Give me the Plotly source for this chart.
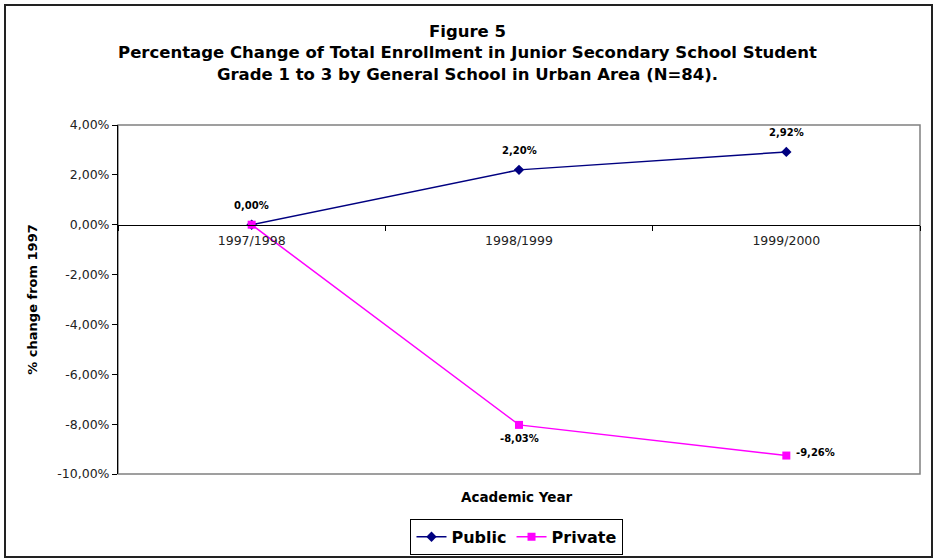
import plotly.graph_objects as go

# Academic years and percentage change from the 1997 base year
years = ["1997/1998", "1998/1999", "1999/2000"]
public_pct = [0.00, 2.20, 2.92]
private_pct = [0.00, -8.03, -9.26]

y_ticks = [4, 2, 0, -2, -4, -6, -8, -10]
y_min, y_max = -10, 4

FONT = "DejaVu Sans, Verdana, sans-serif"
LABEL_FONT = dict(family=FONT, size=10, color="#000000", weight="bold")


def pct_label(v):
    return f"{v:.2f}%".replace(".", ",")


fig = go.Figure()

fig.add_trace(go.Scatter(
    x=years, y=public_pct, name="Public",
    mode="lines+markers",
    line=dict(color="#000080", width=1.5),
    marker=dict(symbol="diamond", size=8, color="#000080"),
    cliponaxis=False,
))

fig.add_trace(go.Scatter(
    x=years, y=private_pct, name="Private",
    mode="lines+markers",
    line=dict(color="#FF00FF", width=1.5),
    marker=dict(symbol="square", size=8, color="#FF00FF"),
    cliponaxis=False,
))

# value labels: public above each point, private below / to the right
annotations = []
for xv, v in zip(years, public_pct):
    annotations.append(dict(x=xv, y=v, text=pct_label(v), showarrow=False,
                            xanchor="center", yanchor="bottom", yshift=12,
                            font=LABEL_FONT))
for i, (xv, v) in enumerate(zip(years, private_pct)):
    if i == 0:
        continue  # shares the 0,00% label with the public series
    if i == len(years) - 1:
        annotations.append(dict(x=xv, y=v, text=pct_label(v), showarrow=False,
                                xanchor="left", yanchor="middle", xshift=8, yshift=3,
                                font=LABEL_FONT))
    else:
        annotations.append(dict(x=xv, y=v, text=pct_label(v), showarrow=False,
                                xanchor="center", yanchor="top", yshift=-6,
                                font=LABEL_FONT))

annotations.append(dict(
    text="Academic Year", xref="paper", yref="paper",
    x=0.4975, y=(474 - 497) / 349, xanchor="center", yanchor="middle",
    showarrow=False,
    font=dict(family=FONT, size=13.5, color="#000000", weight="bold"),
))

# position of the zero value within the plot area, used to place the category axis
zero_pos = (0 - y_min) / (y_max - y_min)

fig.update_layout(
    width=935, height=559,
    margin=dict(l=118, r=15, t=125, b=85, autoexpand=False),
    paper_bgcolor="white", plot_bgcolor="white",
    font=dict(family=FONT, color="#000000"),
    title=dict(
        text="Figure 5<br>Percentage Change of Total Enrollment in Junior Secondary School Student"
             "<br>Grade 1 to 3 by General School in Urban Area (N=84).",
        x=0.5, xref="container", xanchor="center",
        y=1 - 37 / 559, yref="container", yanchor="top",
        font=dict(family=FONT, size=16.5, color="#000000", weight="bold"),
    ),
    xaxis=dict(
        type="category", range=[-0.5, 2.5],
        anchor="free", position=zero_pos,
        showline=True, linecolor="#000000", linewidth=1,
        ticks="outside", ticklen=5, tickcolor="#000000",
        tickson="boundaries", showgrid=False, zeroline=False,
        ticklabelstandoff=4,
        tickfont=dict(family=FONT, size=12.5, color="#222222"),
    ),
    yaxis=dict(
        range=[y_min, y_max], tickvals=y_ticks,
        ticktext=[pct_label(v) for v in y_ticks],
        showline=True, linecolor="#000000", linewidth=1,
        ticks="outside", ticklen=5, tickcolor="#000000",
        showgrid=False, zeroline=False,
        tickfont=dict(family=FONT, size=12.5, color="#222222"),
        title=dict(text="% change from 1997", standoff=16,
                   font=dict(family=FONT, size=13, color="#000000", weight="bold")),
    ),
    showlegend=True,
    legend=dict(
        orientation="h", x=0.4975, xanchor="center", y=-0.18, yanchor="middle",
        bordercolor="#000000", borderwidth=1, bgcolor="white",
        font=dict(family=FONT, size=16, color="#000000", weight="bold"),
    ),
    annotations=annotations,
    shapes=[
        # plot area border
        dict(type="rect", xref="paper", yref="paper", x0=0, x1=1, y0=0, y1=1,
             line=dict(color="#808080", width=1.5), layer="below"),
        # outer chart frame
        dict(type="rect", xref="paper", yref="paper",
             x0=(5 - 118) / 802, x1=(932 - 118) / 802,
             y0=(474 - 557) / 349, y1=(474 - 5) / 349,
             line=dict(color="#222222", width=2), layer="below"),
    ],
)

fig.write_html("out.html")
